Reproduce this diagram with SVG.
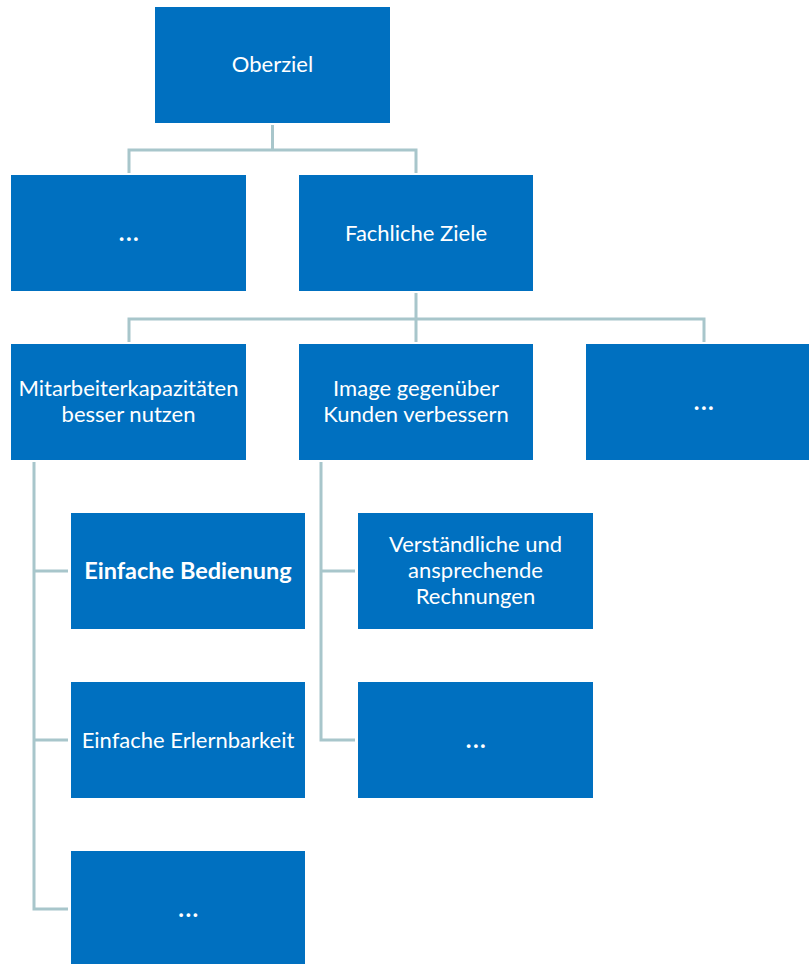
<svg xmlns="http://www.w3.org/2000/svg" width="809" height="964" viewBox="0 0 809 964">
<style>
.box{fill:#0070C0}
.t{font-family:Lato,"Open Sans","Liberation Sans",sans-serif;font-size:22px;fill:#fff;text-anchor:middle}
.b{font-weight:bold;font-size:23.5px}
.d{font-weight:bold;font-size:24px;letter-spacing:1.5px}
.c{fill:none;stroke:#A8C6CB;stroke-width:3}
</style>
<rect width="809" height="964" fill="#fff"/>
<g id="connectors">
<path class="c" d="M272.5 125V150M129 173V150H416V173"/>
<path class="c" d="M416 293V319M129 342V319H704V342M416 319V342"/>
<path class="c" d="M34 462V909H68M34 571H68M34 740H68"/>
<path class="c" d="M321 462V740H355M321 571H355"/>
</g>
<g id="n-oberziel"><rect class="box" x="155" y="7" width="235" height="116"/><text class="t" x="272.5" y="72">Oberziel</text></g>
<g id="n-dots1"><rect class="box" x="11" y="175" width="235" height="116"/><text class="t d" x="129.5" y="241">...</text></g>
<g id="n-fachlich"><rect class="box" x="299" y="175" width="234" height="116"/><text class="t" x="416" y="241">Fachliche Ziele</text></g>
<g id="n-mitarbeiter"><rect class="box" x="11" y="344" width="235" height="116"/><text class="t" x="128.5" y="396">Mitarbeiterkapazitäten</text><text class="t" x="128.5" y="422">besser nutzen</text></g>
<g id="n-image"><rect class="box" x="299" y="344" width="234" height="116"/><text class="t" x="416" y="396">Image gegenüber</text><text class="t" x="416" y="422">Kunden verbessern</text></g>
<g id="n-dots2"><rect class="box" x="586" y="344" width="223" height="116"/><text class="t d" x="704.5" y="410">...</text></g>
<g id="n-bedienung"><rect class="box" x="71" y="513" width="234" height="116"/><text class="t b" x="188" y="579">Einfache Bedienung</text></g>
<g id="n-erlernbarkeit"><rect class="box" x="71" y="682" width="234" height="116"/><text class="t" x="188" y="748">Einfache Erlernbarkeit</text></g>
<g id="n-dots3"><rect class="box" x="71" y="851" width="234" height="116"/><text class="t d" x="189" y="917">...</text></g>
<g id="n-rechnungen"><rect class="box" x="358" y="513" width="235" height="116"/><text class="t" x="475.5" y="552">Verständliche und</text><text class="t" x="475.5" y="578">ansprechende</text><text class="t" x="475.5" y="604">Rechnungen</text></g>
<g id="n-dots4"><rect class="box" x="358" y="682" width="235" height="116"/><text class="t d" x="476.5" y="748">...</text></g>
</svg>
